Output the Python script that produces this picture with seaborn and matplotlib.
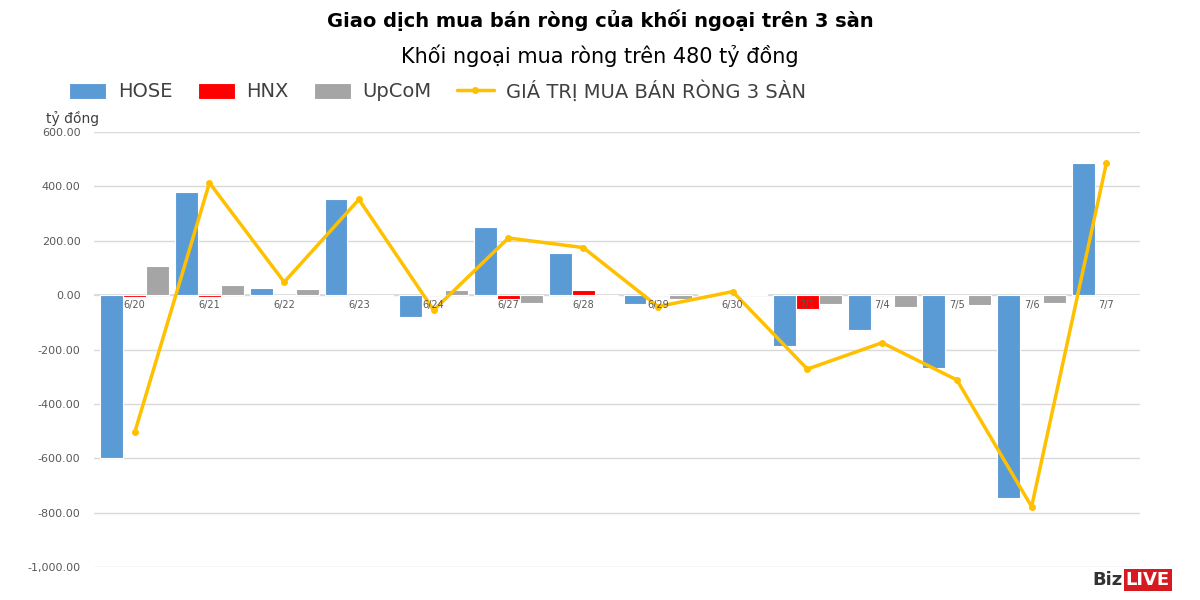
import pandas as pd
import matplotlib.pyplot as plt
import seaborn as sns
import numpy as np

dates = ["6/20", "6/21", "6/22", "6/23", "6/24", "6/27", "6/28", "6/29", "6/30", "7/1", "7/4", "7/5", "7/6", "7/7"]
hose = [-600, 380, 25, 352, -82, 252, 155, -32, 5, -188, -130, -268, -748, 487]
hnx = [-8, -6, -4, -3, 4, -13, 20, 3, 3, -50, 2, -5, 2, 2]
upcom = [107, 38, 23, -2, 20, -30, -2, -15, 5, -33, -42, -38, -30, -4]
total = [-505, 413, 48, 352, -55, 210, 175, -42, 13, -272, -175, -312, -778, 485]

sns.set_theme(style="white")
plt.rcParams['font.family'] = ['DejaVu Sans']

df = pd.DataFrame({"date": dates * 3,
                   "value": hose + hnx + upcom,
                   "series": ["HOSE"] * 14 + ["HNX"] * 14 + ["UpCoM"] * 14})

fig = plt.figure(figsize=(12, 6), dpi=100)
ax = fig.add_axes([0.078, 0.055, 0.872, 0.725])
sns.barplot(data=df, x="date", y="value", hue="series", order=dates,
            hue_order=["HOSE", "HNX", "UpCoM"], saturation=1,
            palette=["#5B9BD5", "#FF0000", "#A5A5A5"], width=0.92, ax=ax,
            edgecolor="white", linewidth=0.8)
ax.plot(range(len(dates)), total, color="#FFC000", lw=2.5, marker="o", ms=4,
        label="GIÁ TRỊ MUA BÁN RÒNG 3 SÀN")

ax.set_ylim(-1000, 600)
ax.set_xlim(-0.55, len(dates) - 0.55)
ax.set_yticks(np.arange(-1000, 601, 200))
ax.set_yticklabels([f"{v:,.2f}" for v in np.arange(-1000, 601, 200)], fontsize=8, color="#595959")
ax.yaxis.grid(True, color="#D9D9D9", lw=1)
ax.set_axisbelow(True)
ax.axhline(0, color="#D9D9D9", lw=1.2, zorder=0)
ax.set_xticks([])
ax.set_xlabel("")
ax.set_ylabel("")
for s in ax.spines.values():
    s.set_visible(False)
for i, d in enumerate(dates):
    ax.text(i, -18, d, ha="center", va="top", fontsize=7, color="#595959")

ax.legend(loc="lower left", bbox_to_anchor=(-0.04, 1.03), ncol=4, frameon=False,
          fontsize=14, handlelength=1.9, handleheight=0.9, handletextpad=0.6,
          columnspacing=1.3, labelcolor="#404040")
fig.text(0.038, 0.795, "tỷ đồng", fontsize=10, color="#404040")
fig.text(0.5, 0.955, "Giao dịch mua bán ròng của khối ngoại trên 3 sàn", ha="center",
         fontsize=14, fontweight="bold", color="black")
fig.text(0.5, 0.895, "Khối ngoại mua ròng trên 480 tỷ đồng", ha="center", fontsize=15,
         color="black")
fig.text(0.91, 0.025, "Biz", fontsize=13, fontweight="bold", color="#333333")
fig.text(0.938, 0.025, "LIVE", fontsize=13, fontweight="bold", color="white",
         bbox=dict(boxstyle="square,pad=0.1", fc="#D71920", ec="none"))

fig.savefig("out.png", dpi=100)
